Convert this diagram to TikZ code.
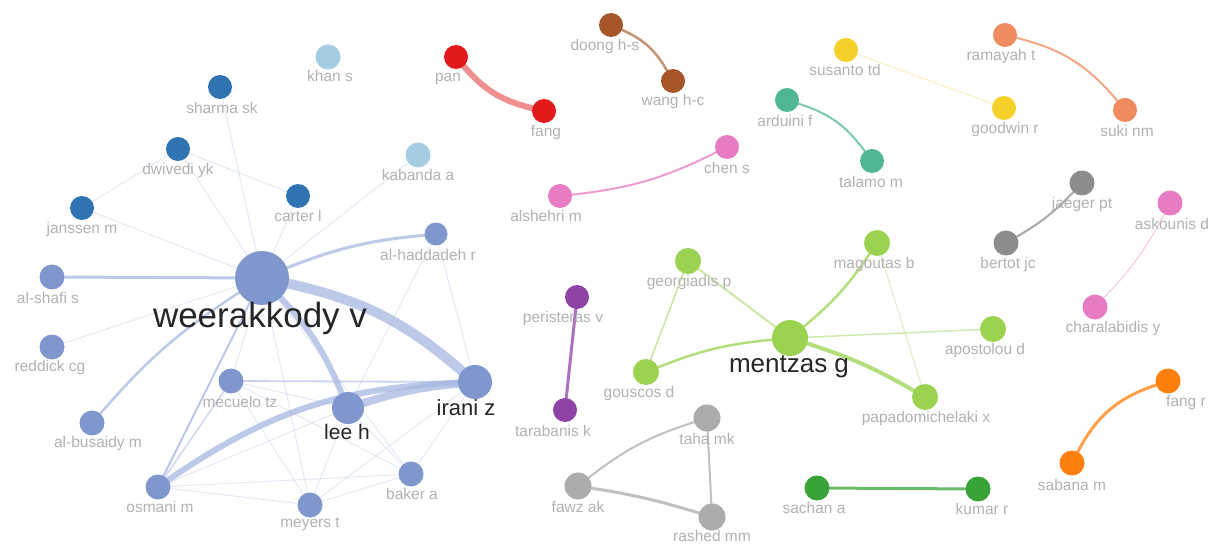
\documentclass[tikz,border=0pt]{standalone}
\usepackage{fontspec}
\setmainfont{Liberation Sans}
\definecolor{mainC}{RGB}{128,151,206}
\definecolor{edgeC}{RGB}{168,184,226}
\definecolor{blueC}{RGB}{47,115,178}
\definecolor{lblueC}{RGB}{166,204,228}
\definecolor{redC}{RGB}{226,26,28}
\definecolor{brownC}{RGB}{166,86,40}
\definecolor{yellowC}{RGB}{244,208,40}
\definecolor{salmonC}{RGB}{240,138,95}
\definecolor{tealC}{RGB}{80,182,150}
\definecolor{pinkC}{RGB}{232,124,196}
\definecolor{purpleC}{RGB}{142,68,166}
\definecolor{limeC}{RGB}{155,210,80}
\definecolor{grayC}{RGB}{140,140,140}
\definecolor{lgrayC}{RGB}{172,172,172}
\definecolor{greenC}{RGB}{56,164,56}
\definecolor{orangeC}{RGB}{255,127,14}
\definecolor{labelC}{RGB}{178,178,178}
\pgfdeclarelayer{bg}
\pgfsetlayers{bg,main}
\begin{document}
\begin{tikzpicture}[x=1pt,y=-1pt,
  nd/.style={circle,fill=#1,inner sep=0pt,minimum size=25pt},
  lab/.style={text=labelC,font=\fontsize{15.5}{15.5}\selectfont,inner sep=0pt},
  big/.style={text=black!85,inner sep=0pt},
  ed/.style={draw=#1,line cap=round,opacity=0.75},
  thin/.style={draw=edgeC,line width=1pt,opacity=0.3}]
\useasboundingbox (0,0) rectangle (1215,545);

% ---- nodes ----
\node[nd=mainC,minimum size=54pt] (weer) at (262,278) {};
\node[nd=mainC,minimum size=34pt] (irani) at (475,382) {};
\node[nd=mainC,minimum size=32pt] (lee) at (348,408) {};
\node[nd=mainC] (shafi) at (52,277) {};
\node[nd=mainC] (reddick) at (52,347) {};
\node[nd=mainC] (busaidy) at (92,423) {};
\node[nd=mainC] (osmani) at (158,487) {};
\node[nd=mainC] (mec) at (231,381) {};
\node[nd=mainC] (meyers) at (310,505) {};
\node[nd=mainC] (baker) at (411,474) {};
\node[nd=mainC,minimum size=23pt] (hadd) at (436,234) {};
\node[nd=blueC,minimum size=24pt] (jans) at (82,208) {};
\node[nd=blueC,minimum size=24pt] (dwiv) at (178,149) {};
\node[nd=blueC,minimum size=24pt] (sharma) at (220,87) {};
\node[nd=blueC,minimum size=24pt] (carter) at (298,196) {};
\node[nd=lblueC] (khan) at (328,57) {};
\node[nd=lblueC] (kab) at (418,155) {};
\node[nd=redC,minimum size=24pt] (pan) at (456,57) {};
\node[nd=redC,minimum size=24pt] (fang) at (544,111) {};
\node[nd=brownC,minimum size=24pt] (doong) at (611,25) {};
\node[nd=brownC,minimum size=24pt] (wang) at (673,81) {};
\node[nd=yellowC,minimum size=24pt] (sus) at (846,50) {};
\node[nd=yellowC,minimum size=24pt] (good) at (1004,108) {};
\node[nd=salmonC,minimum size=24pt] (ram) at (1005,35) {};
\node[nd=salmonC,minimum size=24pt] (suki) at (1125,110) {};
\node[nd=tealC,minimum size=24pt] (ard) at (787,100) {};
\node[nd=tealC,minimum size=24pt] (tal) at (872,161) {};
\node[nd=pinkC,minimum size=24pt] (chen) at (727,147) {};
\node[nd=pinkC,minimum size=24pt] (alsh) at (560,196) {};
\node[nd=purpleC,minimum size=24pt] (peri) at (577,297) {};
\node[nd=purpleC,minimum size=24pt] (tara) at (565,410) {};
\node[nd=limeC,minimum size=36pt] (ment) at (790,338) {};
\node[nd=limeC,minimum size=26pt] (geor) at (688,261) {};
\node[nd=limeC,minimum size=26pt] (goud) at (646,372) {};
\node[nd=limeC,minimum size=26pt] (mag) at (877,243) {};
\node[nd=limeC,minimum size=26pt] (papa) at (925,397) {};
\node[nd=limeC,minimum size=26pt] (apos) at (993,329) {};
\node[nd=grayC,minimum size=25pt] (jaeg) at (1082,183) {};
\node[nd=grayC,minimum size=25pt] (bert) at (1006,243) {};
\node[nd=pinkC,minimum size=25pt] (ask) at (1170,203) {};
\node[nd=pinkC,minimum size=25pt] (chara) at (1095,307) {};
\node[nd=orangeC,minimum size=25pt] (fangr) at (1168,381) {};
\node[nd=orangeC,minimum size=25pt] (saba) at (1072,463) {};
\node[nd=greenC,minimum size=25pt] (sach) at (817,488) {};
\node[nd=greenC,minimum size=25pt] (kum) at (978,489) {};
\node[nd=lgrayC,minimum size=27pt] (taha) at (707,418) {};
\node[nd=lgrayC,minimum size=27pt] (fawz) at (578,486) {};
\node[nd=lgrayC,minimum size=27pt] (rash) at (712,517) {};

% ---- edges ----
\begin{pgfonlayer}{bg}
\fill[white] (0,0) rectangle (1215,545);
% faint links in the main cluster
\draw[thin] (weer) -- (jans);
\draw[thin] (weer) -- (dwiv);
\draw[thin] (weer) -- (sharma);
\draw[thin] (weer) -- (carter);
\draw[thin] (weer) -- (reddick);
\draw[thin] (weer) -- (kab);
\draw[thin] (dwiv) -- (carter);
\draw[thin] (dwiv) -- (jans);
\draw[thin] (weer) -- (meyers);
\draw[thin] (weer) -- (mec);
\draw[thin] (weer) -- (baker);
\draw[thin] (hadd) -- (irani);
\draw[thin] (hadd) -- (lee);
\draw[thin] (mec) -- (lee);
\draw[thin] (mec) -- (meyers);
\draw[thin] (mec) -- (baker);
\draw[thin] (lee) -- (baker);
\draw[thin] (lee) -- (meyers);
\draw[thin] (irani) -- (baker);
\draw[thin] (irani) -- (meyers);
\draw[thin] (osmani) -- (meyers);
\draw[thin] (osmani) -- (baker);
\draw[thin] (osmani) -- (lee);
\draw[thin] (meyers) -- (baker);
\draw[ed=edgeC,line width=1.5pt,opacity=0.55] (osmani) -- (mec);
\draw[ed=edgeC,line width=1.8pt,opacity=0.6] (mec) -- (irani);
% stronger links
\draw[ed=edgeC,line width=3pt] (shafi) -- (weer);
\draw[ed=edgeC,line width=2.5pt] (busaidy) to[bend left=8] (weer);
\draw[ed=edgeC,line width=2pt] (osmani) -- (weer);
\draw[ed=edgeC,line width=3pt] (weer) to[bend left=8] (hadd);
\draw[ed=edgeC,line width=6pt] (weer) to[bend left=10] (lee);
\draw[ed=edgeC,line width=10pt] (weer) to[bend left=14] (irani);
\draw[ed=edgeC,line width=8pt] (lee) to[bend left=6] (irani);
\draw[ed=edgeC,line width=6pt] (osmani) to[bend left=16] (irani);
% small clusters
\draw[ed=redC!65,line width=6pt] (pan) to[bend right=18] (fang);
\draw[ed=brownC!85,line width=2.5pt] (doong) to[bend left=18] (wang);
\draw[ed=yellowC!40,line width=1pt] (sus) -- (good);
\draw[ed=salmonC,line width=2pt] (ram) to[bend left=18] (suki);
\draw[ed=tealC,line width=2pt] (ard) to[bend left=18] (tal);
\draw[ed=pinkC,line width=2pt] (alsh) to[bend right=10] (chen);
\draw[ed=purpleC,line width=3pt] (peri) -- (tara);
\draw[ed=limeC,line width=2pt,opacity=0.5] (geor) -- (ment);
\draw[ed=limeC,line width=1.5pt,opacity=0.55] (geor) -- (goud);
\draw[ed=limeC,line width=2.5pt] (goud) to[bend left=8] (ment);
\draw[ed=limeC,line width=2.5pt] (ment) to[bend right=8] (mag);
\draw[ed=limeC,line width=4pt] (ment) to[bend left=6] (papa);
\draw[ed=limeC,line width=1.5pt,opacity=0.45] (ment) -- (apos);
\draw[ed=limeC,line width=1pt,opacity=0.35] (mag) -- (papa);
\draw[ed=grayC,line width=2pt] (bert) to[bend right=8] (jaeg);
\draw[ed=pinkC!50,line width=1.2pt] (chara) to[bend right=8] (ask);
\draw[ed=orangeC,line width=3pt] (saba) to[bend left=22] (fangr);
\draw[ed=greenC,line width=3pt] (sach) -- (kum);
\draw[ed=lgrayC,line width=2pt] (fawz) to[bend left=10] (taha);
\draw[ed=lgrayC,line width=3pt] (fawz) to[bend left=4] (rash);
\draw[ed=lgrayC,line width=2pt] (taha) -- (rash);
\end{pgfonlayer}

% ---- labels ----
\node[big,font=\fontsize{35}{35}\selectfont] (lweer) at (260,318) {weerakkody v};
\node[big,font=\fontsize{22}{22}\selectfont] (lirani) at (466,408) {irani z};
\node[big,font=\fontsize{21}{21}\selectfont] (llee) at (347,432) {lee h};
\node[big,font=\fontsize{26}{26}\selectfont] (lment) at (789,367) {mentzas g};
\node[lab] (lshafi) at (48,298) {al-shafi s};
\node[lab] (lreddick) at (50,367) {reddick cg};
\node[lab] (lbusaidy) at (98,443) {al-busaidy m};
\node[lab] (losmani) at (160,507) {osmani m};
\node[lab] (lmec) at (240,402) {mecuelo tz};
\node[lab] (lmeyers) at (310,524) {meyers t};
\node[lab] (lbaker) at (412,494) {baker a};
\node[lab] (lhadd) at (428,255) {al-haddadeh r};
\node[lab] (ljans) at (82,229) {janssen m};
\node[lab] (ldwiv) at (178,170) {dwivedi yk};
\node[lab] (lsharma) at (222,108) {sharma sk};
\node[lab] (lcarter) at (298,216) {carter l};
\node[lab] (lkhan) at (330,76) {khan s};
\node[lab] (lkab) at (418,175) {kabanda a};
\node[lab] (lpan) at (448,79) {pan};
\node[lab] (lfang) at (546,133) {fang};
\node[lab] (ldoong) at (605,46) {doong h-s};
\node[lab] (lwang) at (673,101) {wang h-c};
\node[lab] (lsus) at (845,70) {susanto td};
\node[lab] (lgood) at (1005,129) {goodwin r};
\node[lab] (lram) at (1001,56) {ramayah t};
\node[lab] (lsuki) at (1127,131) {suki nm};
\node[lab] (lard) at (785,121) {arduini f};
\node[lab] (ltal) at (871,182) {talamo m};
\node[lab] (lchen) at (727,168) {chen s};
\node[lab] (lalsh) at (546,216) {alshehri m};
\node[lab] (lperi) at (563,318) {peristeras v};
\node[lab] (ltara) at (553,431) {tarabanis k};
\node[lab] (lgeor) at (689,282) {georgiadis p};
\node[lab] (lgoud) at (639,393) {gouscos d};
\node[lab] (lmag) at (874,264) {magoutas b};
\node[lab] (lpapa) at (926,418) {papadomichelaki x};
\node[lab] (lapos) at (985,350) {apostolou d};
\node[lab] (ljaeg) at (1082,204) {jaeger pt};
\node[lab] (lbert) at (1008,264) {bertot jc};
\node[lab] (lask) at (1172,224) {askounis d};
\node[lab] (lchara) at (1113,328) {charalabidis y};
\node[lab] (lfangr) at (1186,402) {fang r};
\node[lab] (lsaba) at (1072,485) {sabana m};
\node[lab] (lsach) at (814,508) {sachan a};
\node[lab] (lkum) at (982,509) {kumar r};
\node[lab] (ltaha) at (707,439) {taha mk};
\node[lab] (lfawz) at (578,507) {fawz ak};
\node[lab] (lrash) at (712,536) {rashed mm};
\end{tikzpicture}
\end{document}
